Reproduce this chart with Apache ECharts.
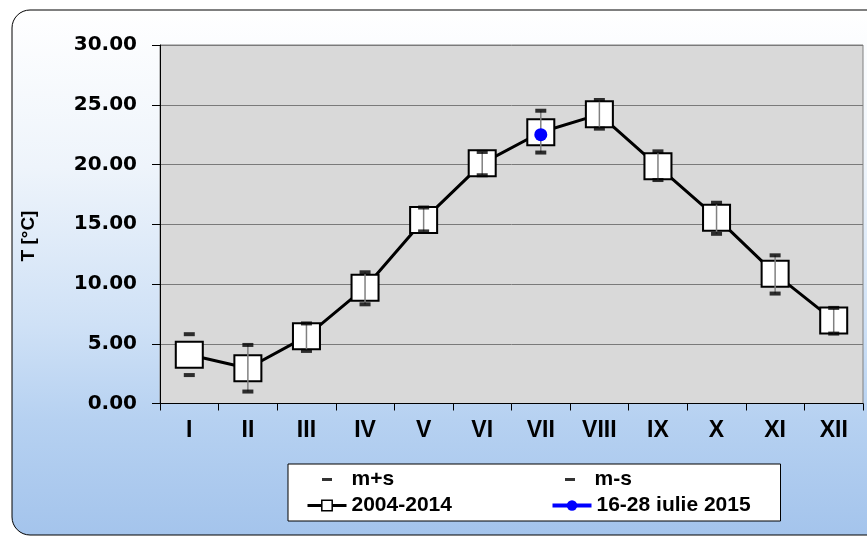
<!DOCTYPE html>
<html>
<head>
<meta charset="utf-8">
<script src="https://cdn.jsdelivr.net/npm/echarts@6/dist/echarts.min.js"></script>
<style>
html,body{margin:0;padding:0;background:#fff;}
#chart{width:867px;height:538px;}
</style>
</head>
<body>
<div id="chart"></div>
<script>
// ---- data ----
const months = ['I','II','III','IV','V','VI','VII','VIII','IX','X','XI','XII'];
const mean2004_2014 = [4.08, 2.95, 5.62, 9.69, 15.36, 20.1, 22.7, 24.2, 19.85, 15.55, 10.85, 6.95];
const meanPlusS = [5.8, 4.9, 6.7, 10.98, 16.4, 21.05, 24.5, 25.4, 21.1, 16.8, 12.4, 8.0];
const meanMinusS = [2.38, 1.0, 4.4, 8.3, 14.4, 19.1, 21.0, 23.0, 18.7, 14.2, 9.2, 5.85];
const july2015 = ['-', '-', '-', '-', '-', '-', 22.5, '-', '-', '-', '-', '-'];
const whiskerDrawn = [false, true, true, true, true, true, true, true, true, true, true, true];
const yTicks = {min: 0, max: 30, interval: 5};

const chart = echarts.init(document.getElementById('chart'), null, {renderer: 'canvas'});

const whiskerData = months.map((m, i) => [i, meanPlusS[i], meanMinusS[i], whiskerDrawn[i] ? 1 : 0]);

const capIcon = 'path://M0,0M39,13M14.5,5L24.5,5L24.5,8L14.5,8Z';

const option = {
  animation: false,
  backgroundColor: '#ffffff',
  graphic: [
    {
      type: 'rect', z: -100, silent: true,
      shape: {x: 12, y: 10, width: 880, height: 525, r: 18},
      style: {
        fill: new echarts.graphic.LinearGradient(0, 0, 0, 1, [
          {offset: 0, color: '#ffffff'},
          {offset: 0.3, color: '#eef4fb'},
          {offset: 0.6, color: '#cfe1f6'},
          {offset: 0.78, color: '#b6d1f1'},
          {offset: 1, color: '#a4c4ec'}
        ]),
        stroke: '#000000', lineWidth: 1
      }
    },
    {
      type: 'text', z: 10, silent: true,
      x: 29, y: 236, rotation: Math.PI / 2,
      style: {
        text: 'T [°C]', fill: '#000',
        font: 'bold 19px "Liberation Sans", Arial, sans-serif',
        align: 'center', verticalAlign: 'middle'
      }
    }
  ],
  grid: {
    left: 160, right: 4, top: 45, bottom: 134.5,
    show: true, backgroundColor: '#d9d9d9', borderColor: '#808080', borderWidth: 1
  },
  legend: {
    left: 288, top: 464, width: 470,
    orient: 'horizontal',
    padding: [5, 14, 5, 18],
    itemGap: 5,
    itemWidth: 39, itemHeight: 13,
    backgroundColor: '#ffffff', borderColor: '#000000', borderWidth: 1, borderRadius: 0,
    textStyle: {
      fontFamily: '"Liberation Sans", Arial, sans-serif', fontWeight: 'bold',
      fontSize: 21, color: '#000', lineHeight: 20
    },
    data: [
      {name: 'm+s', icon: capIcon, textStyle: {width: 194}},
      {name: 'm-s', icon: capIcon, textStyle: {width: 170}},
      {name: '2004-2014', textStyle: {width: 194}, lineStyle: {width: 3}, itemStyle: {borderWidth: 1.5}},
      {name: '16-28 iulie 2015', textStyle: {width: 170}, lineStyle: {width: 4}}
    ]
  },
  xAxis: {
    type: 'category',
    data: months,
    boundaryGap: true,
    axisLine: {lineStyle: {color: '#000', width: 1}},
    axisTick: {show: true, inside: false, length: 7, alignWithLabel: false, lineStyle: {color: '#000'}},
    axisLabel: {
      margin: 16, color: '#000', fontSize: 23, fontWeight: 'bold',
      fontFamily: '"Liberation Sans", Arial, sans-serif', interval: 0
    },
    splitLine: {show: false}
  },
  yAxis: {
    type: 'value',
    min: yTicks.min, max: yTicks.max, interval: yTicks.interval,
    axisLine: {show: true, lineStyle: {color: '#000', width: 1}},
    axisTick: {show: true, length: 8, lineStyle: {color: '#000'}},
    axisLabel: {
      margin: 23, color: '#000', fontSize: 20, fontWeight: 'bold',
      fontFamily: '"DejaVu Sans", sans-serif',
      formatter: v => v.toFixed(2)
    },
    splitLine: {show: true, lineStyle: {color: '#7a7a7a', width: 1}}
  },
  series: [
    {
      name: '2004-2014',
      type: 'line',
      data: mean2004_2014,
      z: 2,
      symbol: 'rect',
      symbolSize: [27, 26],
      showAllSymbol: true,
      lineStyle: {color: '#000', width: 3},
      itemStyle: {color: '#ffffff', borderColor: '#000000', borderWidth: 2}
    },
    {
      name: 'whisker',
      type: 'custom',
      z: 3,
      silent: true,
      data: whiskerData,
      encode: {x: 0, y: [1, 2]},
      renderItem: function (params, api) {
        if (!api.value(3)) return null;
        const i = api.value(0);
        const p1 = api.coord([i, api.value(1)]);
        const p2 = api.coord([i, api.value(2)]);
        return {
          type: 'line',
          shape: {x1: p1[0], y1: p1[1], x2: p2[0], y2: p2[1]},
          style: {stroke: '#808080', lineWidth: 1.5}
        };
      }
    },
    {
      name: 'm+s',
      type: 'scatter',
      data: meanPlusS,
      z: 4,
      symbol: 'rect',
      symbolSize: [11, 4],
      itemStyle: {color: '#000'}
    },
    {
      name: 'm-s',
      type: 'scatter',
      data: meanMinusS,
      z: 4,
      symbol: 'rect',
      symbolSize: [11, 4],
      itemStyle: {color: '#000'}
    },
    {
      name: '16-28 iulie 2015',
      type: 'line',
      data: july2015,
      z: 5,
      symbol: 'circle',
      symbolSize: 13,
      showAllSymbol: true,
      lineStyle: {color: '#0000ff', width: 4},
      itemStyle: {color: '#0000ff'}
    }
  ]
};

chart.setOption(option);
</script>
</body>
</html>
